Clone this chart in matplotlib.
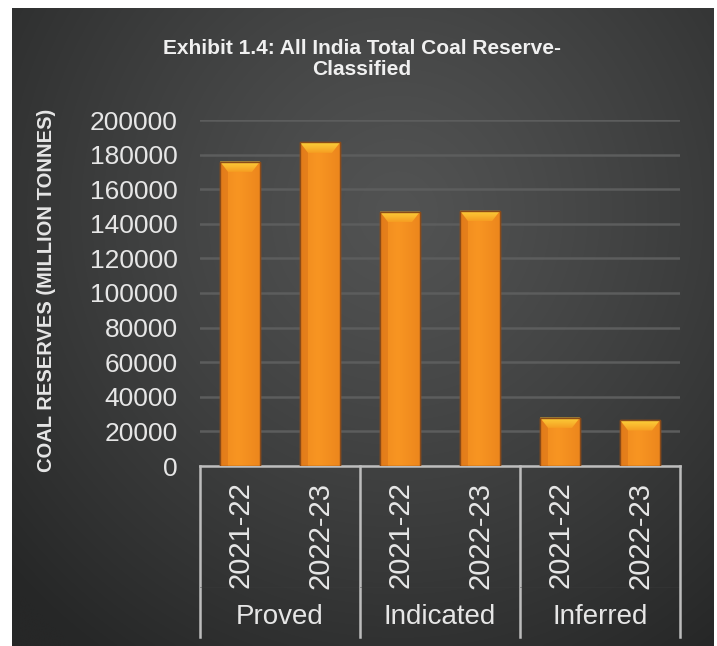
import matplotlib.pyplot as plt
import matplotlib.patches as patches
import matplotlib.transforms as mtransforms
import numpy as np

# Data
groups = ["Proved", "Indicated", "Inferred"]
years = ["2021-22", "2022-23"]
values = [176000, 187000, 147000, 147500, 28000, 26500]
yticks = [0, 20000, 40000, 60000, 80000, 100000, 120000, 140000, 160000, 180000, 200000]

TEXT = "#e6e6e6"
GRID = "#5c5d5d"
FONT = "Liberation Sans"

plt.rcParams['font.family'] = FONT

W, H = 717, 646
fig = plt.figure(figsize=(W / 100, H / 100), dpi=100)
fig.patch.set_facecolor("white")

# ── dark panel with soft radial gradient ──
bg = fig.add_axes([12 / W, 0, (713 - 12) / W, (646 - 8) / H])
bg.axis("off")
yy, xx = np.mgrid[0:1:300j, 0:1:330j]
d = np.sqrt(((xx - 0.55) / 0.75) ** 2 + ((yy - 0.32) / 0.85) ** 2)
t = np.clip(d, 0, 1) ** 1.2
light = np.array([0x52, 0x53, 0x53]) / 255
dark = np.array([0x26, 0x27, 0x27]) / 255
img = light[None, None, :] * (1 - t[..., None]) + dark[None, None, :] * t[..., None]
bg.imshow(img, aspect="auto", extent=[0, 1, 1, 0], interpolation="bicubic")
bg.set_xlim(0, 1)
bg.set_ylim(1, 0)

# ── chart axes ──
ax = fig.add_axes([200 / W, (646 - 466) / H, 480 / W, 346 / H])
ax.patch.set_alpha(0)
x = np.arange(len(values))
ax.set_xlim(-0.5, len(values) - 0.5)
ax.set_ylim(0, 200000)
ax.set_yticks(yticks)
ax.set_yticklabels([str(v) for v in yticks], fontsize=19, color=TEXT)
ax.tick_params(axis="y", length=0, pad=16)
ax.tick_params(axis="x", length=0, labelbottom=False)
ax.yaxis.grid(True, color=GRID, lw=1.8)
ax.set_axisbelow(True)
for s in ["top", "right", "left"]:
    ax.spines[s].set_visible(False)
ax.spines["bottom"].set_color("#bdbdbd")
ax.spines["bottom"].set_linewidth(1.8)

bars = ax.bar(x, values, width=0.5, color="#f08a1c", edgecolor="#9a531c", lw=1.0, zorder=3)

# orange shading inside each bar + bevelled top
grad = np.linspace(0, 1, 64)
shade = 1 - 0.55 * np.abs(grad - 0.45) ** 1.1
orange_hi = np.array([0xf8, 0x95, 0x22]) / 255
orange_lo = np.array([0xd0, 0x62, 0x10]) / 255
bar_img = orange_lo[None, None, :] + (orange_hi - orange_lo)[None, None, :] * shade[None, :, None]
bev_img = np.linspace(0, 1, 32)[:, None, None] * (np.array([0xfc, 0xd2, 0x3a]) - np.array([0xf6, 0x9e, 0x22]))[None, None, :] / 255 \
    + np.array([0xf6, 0x9e, 0x22])[None, None, :] / 255
bev_img = np.repeat(bev_img, 8, axis=1)
bev_h = 0.03 * 200000
for b in bars:
    x0, w, h = b.get_x(), b.get_width(), b.get_height()
    im = ax.imshow(bar_img, extent=[x0, x0 + w, 0, h], aspect="auto", zorder=3.5)
    im.set_clip_path(b)
    top = patches.Polygon([[x0, h], [x0 + w, h], [x0 + w - 0.1, h - bev_h], [x0 + 0.1, h - bev_h]],
                          closed=True, facecolor="none", edgecolor="none", zorder=4)
    ax.add_patch(top)
    bim = ax.imshow(bev_img, extent=[x0, x0 + w, h - bev_h, h], aspect="auto", origin="lower", zorder=4)
    bim.set_clip_path(top)
    ax.add_patch(patches.Polygon([[x0, h], [x0 + 0.1, h - bev_h], [x0 + 0.1, 0], [x0, 0]],
                                 closed=True, facecolor="#c85e12", alpha=0.3, edgecolor="none", zorder=4))
    ax.add_patch(patches.Rectangle((x0, 0), w, h, fill=False, edgecolor="#8a4a18", lw=1.0, zorder=5))

# ── grouped category axis ──
trans = mtransforms.blended_transform_factory(ax.transData, ax.transAxes)
for i, xi in enumerate(x):
    ax.text(xi, -0.045, years[i % len(years)], rotation=90, ha="center", va="top",
            fontsize=21, color=TEXT, transform=trans)
for g, name in enumerate(groups):
    cx = g * len(years) + (len(years) - 1) / 2
    ax.text(cx, -0.437, name, ha="center", va="center", fontsize=20, color=TEXT, transform=trans)
for k in range(len(groups) + 1):
    xs = k * len(years) - 0.5
    ax.plot([xs, xs], [0, -0.493], color="#bdbdbd", lw=1.8, transform=trans, clip_on=False)
    if k < len(groups):
        ax.plot([xs, xs + len(years)], [-0.35, -0.35], color="#3a3b3b", lw=0.6, alpha=0.5,
                transform=trans, clip_on=False)

# y label
fig.text(47 / W, 1 - 290 / H, "COAL RESERVES (MILLION TONNES)", rotation=90, ha="center", va="center",
         fontsize=14.5, fontweight="bold", color=TEXT)

# title
fig.text(362 / W, 1 - 59 / H, "Exhibit 1.4: All India Total Coal Reserve-\nClassified", ha="center",
         va="center", fontsize=15, fontweight="bold", color="#f0f0f0", linespacing=1.1)

fig.savefig("out.png", dpi=100, facecolor=fig.get_facecolor())
